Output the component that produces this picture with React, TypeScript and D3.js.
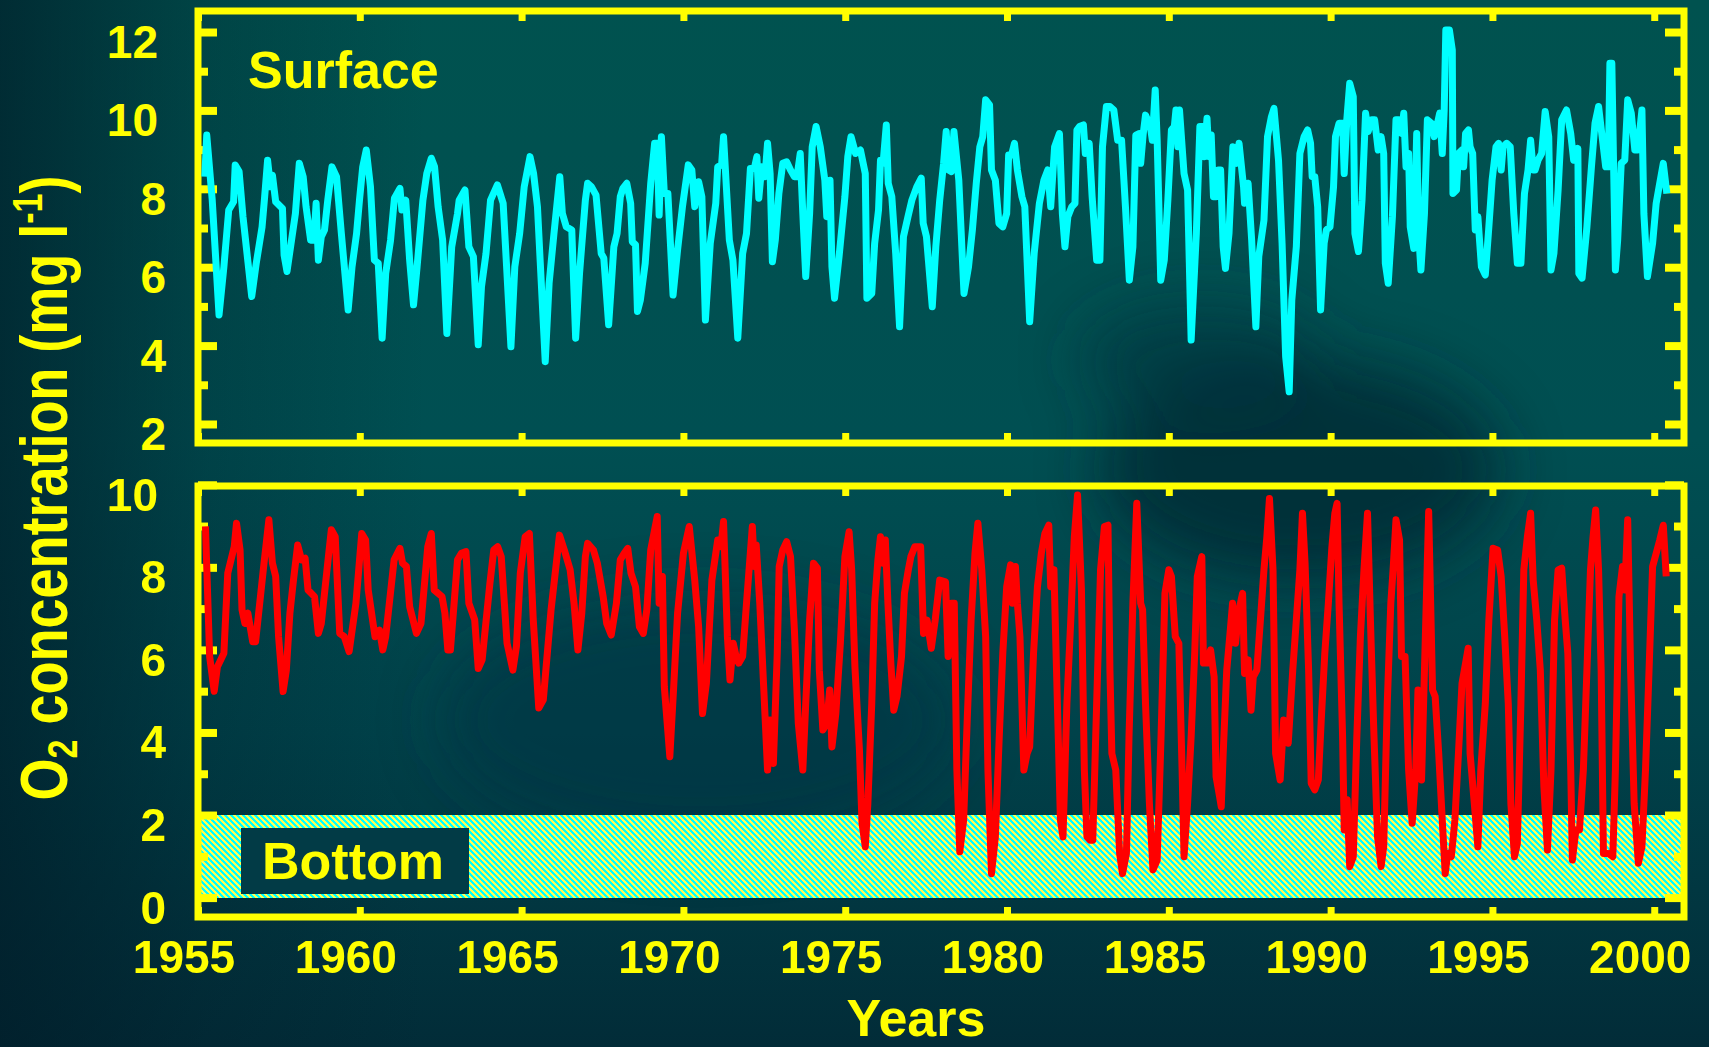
import { useEffect, useRef } from 'react';
import * as d3 from 'd3';

const W = 1709;
const H = 1047;
const YELLOW = '#ffff00';
const FONT = "'Liberation Sans', Arial, sans-serif";

const yearTicks = [1955, 1960, 1965, 1970, 1975, 1980, 1985, 1990, 1995, 2000];
const surfaceTicks = [2, 4, 6, 8, 10, 12];
const surfaceMinor = [3, 5, 7, 9, 11];
const bottomTicks = [0, 2, 4, 6, 8, 10];
const bottomMinor = [1, 3, 5, 7, 9];
const hypoxiaLimit = 2;

// [decimal year, O2 mg/l]
const surface: [number, number][] = [
  [1955.21, 8.31], [1955.27, 9.37], [1955.44, 7.71], [1955.65, 4.78], [1955.8, 6.01], [1955.95, 7.46], [1956.1, 7.67], [1956.15, 8.61],
  [1956.27, 8.44], [1956.39, 7.29], [1956.66, 5.25], [1956.8, 6.1], [1956.98, 7.03], [1957.06, 7.8], [1957.15, 8.73], [1957.24, 8.05],
  [1957.3, 8.35], [1957.4, 7.67], [1957.61, 7.5], [1957.66, 6.31], [1957.75, 5.89], [1957.89, 6.69], [1958.01, 7.37], [1958.13, 8.65],
  [1958.25, 8.31], [1958.34, 7.54], [1958.48, 6.69], [1958.58, 6.69], [1958.65, 7.63], [1958.72, 6.18], [1958.81, 6.78], [1958.91, 6.95],
  [1959.01, 7.71], [1959.14, 8.56], [1959.28, 8.31], [1959.43, 6.86], [1959.64, 4.91], [1959.76, 6.01], [1959.9, 6.86], [1959.99, 7.71],
  [1960.09, 8.56], [1960.2, 8.99], [1960.33, 8.05], [1960.45, 6.18], [1960.57, 6.1], [1960.69, 4.19], [1960.8, 5.84], [1960.95, 6.69],
  [1961.07, 7.76], [1961.24, 8.01], [1961.3, 7.46], [1961.42, 7.71], [1961.54, 6.18], [1961.66, 5.04], [1961.77, 6.01], [1961.95, 7.71],
  [1962.07, 8.39], [1962.21, 8.78], [1962.31, 8.56], [1962.42, 7.54], [1962.56, 6.69], [1962.69, 4.31], [1962.84, 6.52], [1963.02, 7.37],
  [1963.07, 7.71], [1963.25, 7.97], [1963.37, 6.52], [1963.51, 6.27], [1963.66, 4.02], [1963.76, 5.5], [1963.9, 6.35], [1964.04, 7.71],
  [1964.25, 8.1], [1964.43, 7.63], [1964.67, 3.97], [1964.79, 6.01], [1964.94, 6.86], [1965.08, 8.05], [1965.26, 8.82], [1965.37, 8.39],
  [1965.49, 7.54], [1965.73, 3.59], [1965.85, 5.59], [1966.0, 6.86], [1966.18, 8.31], [1966.26, 7.37], [1966.38, 7.03], [1966.55, 6.95],
  [1966.67, 4.19], [1966.79, 5.84], [1966.97, 7.71],
  [1967.04, 8.14], [1967.16, 8.05], [1967.3, 7.84], [1967.46, 6.35], [1967.54, 6.23], [1967.69, 4.53], [1967.85, 6.52], [1967.95, 6.86],
  [1968.05, 7.8], [1968.13, 8.01], [1968.25, 8.14], [1968.37, 7.63], [1968.42, 6.65], [1968.52, 6.57], [1968.58, 4.87], [1968.67, 5.16],
  [1968.82, 6.1], [1968.99, 8.14], [1969.11, 9.16], [1969.19, 9.16], [1969.25, 7.33], [1969.32, 9.33], [1969.41, 7.88], [1969.52, 7.88],
  [1969.68, 5.29], [1969.82, 6.44], [1969.97, 7.54], [1970.15, 8.61], [1970.26, 8.48], [1970.35, 7.54], [1970.47, 8.18], [1970.57, 7.8],
  [1970.68, 4.65], [1970.83, 6.61], [1971.0, 7.63], [1971.06, 8.56], [1971.18, 8.61], [1971.24, 9.33], [1971.42, 6.69], [1971.53, 6.18],
  [1971.68, 4.19], [1971.83, 6.35], [1971.95, 6.86], [1972.07, 8.52], [1972.19, 8.52], [1972.27, 8.82], [1972.33, 7.76], [1972.42, 8.56],
  [1972.52, 8.31], [1972.6, 9.16], [1972.68, 8.39], [1972.75, 6.14], [1972.84, 6.69], [1972.95, 7.88], [1973.07, 8.65], [1973.19, 8.69],
  [1973.31, 8.48], [1973.43, 8.31], [1973.51, 8.31], [1973.61, 8.9], [1973.69, 7.37], [1973.78, 5.76], [1973.9, 7.37], [1973.98, 9.07],
  [1974.1, 9.59], [1974.23, 9.07], [1974.37, 8.22], [1974.43, 7.29], [1974.53, 8.22], [1974.59, 6.01], [1974.67, 5.21], [1974.81, 6.27],
  [1974.99, 7.8], [1975.08, 8.82], [1975.18, 9.33], [1975.32, 8.9], [1975.47, 8.99], [1975.62, 8.39], [1975.67, 5.21], [1975.82, 5.33],
  [1975.91, 6.61], [1976.03, 7.46], [1976.09, 8.73], [1976.17, 8.65], [1976.27, 9.63], [1976.33, 8.14], [1976.44, 7.8], [1976.56, 6.35],
  [1976.68, 4.48], [1976.8, 6.78], [1976.94, 7.29], [1977.06, 7.71], [1977.21, 8.05], [1977.35, 8.27], [1977.41, 7.12], [1977.51, 6.78],
  [1977.69, 4.99], [1977.8, 6.52], [1977.92, 7.71], [1978.04, 8.65], [1978.12, 9.46], [1978.19, 8.48], [1978.28, 8.44], [1978.36, 9.46],
  [1978.51, 8.22], [1978.67, 5.33], [1978.81, 6.01], [1978.93, 6.95], [1979.05, 8.14], [1979.16, 9.07], [1979.25, 9.33], [1979.34, 10.27],
  [1979.46, 10.14], [1979.52, 8.48], [1979.64, 8.22], [1979.75, 7.12], [1979.87, 7.03], [1979.99, 7.37], [1980.05, 8.86], [1980.14, 8.86],
  [1980.23, 9.16], [1980.32, 8.48], [1980.46, 7.8], [1980.55, 7.54], [1980.7, 4.61], [1980.84, 6.35], [1981.0, 7.63], [1981.14, 8.22],
  [1981.26, 8.48], [1981.35, 7.54], [1981.47, 9.07], [1981.62, 9.41], [1981.71, 7.37], [1981.79, 6.52], [1981.88, 7.29], [1982.0, 7.54],
  [1982.1, 7.63], [1982.16, 9.5], [1982.24, 9.59], [1982.36, 9.63], [1982.42, 8.9], [1982.54, 9.16], [1982.63, 7.8], [1982.77, 6.18],
  [1982.87, 6.18], [1982.95, 9.07], [1983.07, 10.1], [1983.18, 10.1], [1983.3, 10.01], [1983.42, 9.24], [1983.54, 9.24], [1983.66, 7.54],
  [1983.78, 5.67], [1983.89, 6.52], [1983.98, 9.37], [1984.09, 9.41], [1984.13, 8.65], [1984.21, 9.41], [1984.28, 9.88], [1984.43, 9.59],
  [1984.49, 9.24],
  [1984.58, 10.52], [1984.64, 9.24], [1984.75, 5.67], [1984.86, 6.18], [1984.97, 7.71], [1985.08, 9.5], [1985.17, 9.59], [1985.22, 10.01],
  [1985.28, 9.07], [1985.33, 10.01], [1985.47, 8.39], [1985.58, 7.97], [1985.69, 4.14], [1985.85, 6.86], [1985.96, 9.59], [1986.05, 9.59],
  [1986.09, 8.82], [1986.18, 9.8], [1986.24, 8.82], [1986.31, 9.37], [1986.38, 7.8], [1986.46, 7.8], [1986.53, 8.48], [1986.6, 8.48],
  [1986.68, 6.52], [1986.75, 5.97], [1986.86, 6.86], [1986.98, 9.07], [1987.09, 8.65], [1987.17, 9.16], [1987.31, 8.05], [1987.34, 7.63],
  [1987.45, 8.14], [1987.56, 6.69], [1987.69, 4.48], [1987.78, 6.27], [1987.94, 7.2], [1988.05, 9.33], [1988.17, 9.84], [1988.25, 10.05],
  [1988.39, 8.73], [1988.5, 6.61], [1988.61, 3.72], [1988.72, 2.82], [1988.8, 5.16], [1988.94, 6.52], [1989.05, 8.9], [1989.18, 9.33],
  [1989.29, 9.5], [1989.38, 9.16], [1989.43, 8.31], [1989.51, 8.31], [1989.6, 7.54], [1989.69, 4.91], [1989.8, 6.61], [1989.87, 6.95],
  [1989.98, 7.03], [1990.09, 8.05], [1990.15, 9.33], [1990.26, 9.67], [1990.37, 9.67], [1990.42, 8.39], [1990.5, 9.76], [1990.59, 10.69],
  [1990.7, 10.35], [1990.75, 6.86], [1990.86, 6.4], [1990.97, 7.71], [1991.08, 9.93], [1991.16, 9.46], [1991.27, 9.76], [1991.36, 9.76],
  [1991.47, 8.99], [1991.56, 9.33], [1991.64, 8.9], [1991.69, 6.1], [1991.78, 5.59], [1991.91, 7.29], [1992.02, 9.76], [1992.1, 9.76],
  [1992.19, 9.41], [1992.26, 9.93], [1992.33, 8.56], [1992.41, 8.9], [1992.46, 7.03], [1992.57, 6.48], [1992.66, 9.41], [1992.72, 6.86],
  [1992.79, 5.93], [1992.9, 7.37], [1992.99, 9.76], [1993.12, 9.67], [1993.2, 9.33], [1993.29, 9.63], [1993.37, 9.93], [1993.45, 8.9],
  [1993.51, 10.01], [1993.56, 12.05], [1993.67, 12.05], [1993.76, 11.54], [1993.78, 7.88], [1993.89, 7.97], [1993.95, 8.9], [1994.06, 8.99],
  [1994.11, 8.56], [1994.17, 9.41], [1994.26, 9.5], [1994.31, 9.07], [1994.39, 8.9], [1994.47, 6.95], [1994.55, 7.29], [1994.66, 6.01],
  [1994.78, 5.8], [1994.89, 7.03], [1994.99, 8.22], [1995.11, 9.07], [1995.19, 9.16], [1995.27, 8.48], [1995.33, 9.07], [1995.44, 9.16],
  [1995.55, 9.07], [1995.66, 7.37], [1995.77, 6.1], [1995.88, 6.1], [1995.99, 7.88], [1996.1, 8.48], [1996.18, 9.24], [1996.26, 8.48],
  [1996.32, 8.48], [1996.41, 8.73], [1996.52, 8.9], [1996.63, 9.97], [1996.74, 9.33], [1996.81, 5.93], [1996.9, 6.35], [1997.03, 7.97],
  [1997.14, 9.76], [1997.29, 10.01], [1997.42, 9.41], [1997.51, 8.73], [1997.64, 9.03], [1997.67, 5.84], [1997.77, 5.72], [1997.92, 7.03],
  [1998.06, 8.56], [1998.17, 9.67], [1998.28, 10.1], [1998.39, 9.33], [1998.5, 8.56], [1998.58, 8.56], [1998.63, 11.2], [1998.69, 11.2],
  [1998.8, 5.93], [1998.87, 6.69], [1998.98, 8.65], [1999.09, 8.73], [1999.18, 10.27], [1999.29, 9.93], [1999.4, 8.99], [1999.49, 8.99],
  [1999.62, 10.01], [1999.68, 7.37], [1999.79, 5.76], [1999.95, 6.61], [2000.06, 7.63], [2000.15, 8.05], [2000.28, 8.65], [2000.39, 7.88],
];

// [decimal year, O2 mg/l]
const bottom: [number, number][] = [
  [1955.23, 8.99], [1955.36, 5.84], [1955.5, 5.0], [1955.6, 5.59], [1955.8, 5.92], [1955.92, 7.86], [1956.12, 8.5], [1956.19, 9.07],
  [1956.3, 8.42], [1956.36, 6.97], [1956.45, 6.64], [1956.54, 6.89], [1956.69, 6.2], [1956.78, 6.2], [1957.04, 8.1], [1957.19, 9.15],
  [1957.3, 8.1], [1957.4, 7.78], [1957.49, 6.32], [1957.63, 4.99], [1957.73, 5.51], [1957.84, 6.89], [1957.95, 7.69], [1958.08, 8.54],
  [1958.2, 8.18], [1958.31, 8.22], [1958.4, 7.45], [1958.6, 7.29], [1958.72, 6.4], [1958.81, 6.64], [1959.03, 8.26], [1959.12, 8.91],
  [1959.24, 8.74], [1959.38, 6.4], [1959.52, 6.32], [1959.67, 5.96], [1959.88, 7.13], [1960.06, 8.82], [1960.18, 8.66], [1960.26, 7.45],
  [1960.47, 6.32], [1960.61, 6.48], [1960.71, 6.0], [1960.8, 6.32], [1961.06, 8.18], [1961.24, 8.46], [1961.32, 8.1], [1961.44, 8.02],
  [1961.54, 7.05], [1961.75, 6.4], [1961.89, 6.64], [1962.1, 8.5], [1962.21, 8.82], [1962.3, 7.45], [1962.54, 7.29], [1962.63, 6.89],
  [1962.72, 6.0], [1962.8, 6.0], [1963.02, 8.18], [1963.14, 8.34], [1963.28, 8.38], [1963.37, 7.13], [1963.55, 6.73], [1963.66, 5.55],
  [1963.78, 5.76], [1964.02, 7.61], [1964.14, 8.42], [1964.26, 8.5], [1964.37, 8.26], [1964.55, 6.16], [1964.73, 5.51], [1964.84, 6.08],
  [1964.96, 7.86], [1965.11, 8.74], [1965.24, 8.82], [1965.36, 6.73], [1965.53, 4.59], [1965.67, 4.79], [1965.91, 6.97], [1966.17, 8.78],
  [1966.32, 8.42], [1966.5, 7.94], [1966.62, 7.13], [1966.74, 6.0], [1966.86, 6.89], [1966.97, 8.26],
  [1967.04, 8.58], [1967.22, 8.42], [1967.34, 8.1], [1967.52, 7.29], [1967.63, 6.64], [1967.77, 6.36], [1967.93, 7.13], [1968.05, 8.18],
  [1968.17, 8.34], [1968.28, 8.46], [1968.38, 7.86], [1968.52, 7.53], [1968.64, 6.56], [1968.76, 6.4], [1968.87, 6.97], [1968.99, 8.42],
  [1969.11, 8.91], [1969.19, 9.23], [1969.25, 7.13], [1969.35, 7.78], [1969.41, 5.11], [1969.58, 3.41], [1969.7, 5.11], [1969.82, 6.89],
  [1970.0, 8.34], [1970.18, 8.99], [1970.35, 7.69], [1970.47, 6.56], [1970.59, 4.46], [1970.71, 5.19], [1970.88, 7.69], [1971.06, 8.66],
  [1971.16, 8.5], [1971.24, 9.11], [1971.36, 6.32], [1971.44, 5.27], [1971.54, 6.16], [1971.63, 5.84], [1971.71, 5.68], [1971.83, 5.84],
  [1971.95, 7.13], [1972.13, 8.99], [1972.19, 8.02], [1972.25, 8.54], [1972.36, 7.13], [1972.48, 5.11], [1972.6, 3.09], [1972.68, 4.3],
  [1972.78, 3.25], [1972.9, 5.92], [1972.96, 8.02], [1973.07, 8.42], [1973.19, 8.62], [1973.31, 8.26], [1973.43, 6.48], [1973.55, 4.22],
  [1973.69, 3.09], [1973.78, 4.7], [1973.9, 6.72], [1974.02, 8.1], [1974.14, 7.98], [1974.2, 5.51], [1974.31, 4.06], [1974.43, 4.22],
  [1974.52, 5.03], [1974.59, 3.65], [1974.71, 4.46], [1974.85, 6.16], [1974.99, 8.26], [1975.12, 8.86], [1975.2, 7.94], [1975.3, 5.59],
  [1975.44, 3.57], [1975.52, 1.8], [1975.62, 1.23], [1975.7, 2.28], [1975.82, 4.7], [1975.91, 7.13], [1976.01, 8.18], [1976.09, 8.74],
  [1976.17, 8.1], [1976.24, 8.66], [1976.32, 7.13], [1976.41, 5.68], [1976.5, 4.54], [1976.6, 4.87], [1976.74, 5.84], [1976.83, 7.37],
  [1976.95, 7.94], [1977.03, 8.26], [1977.15, 8.5], [1977.33, 8.5], [1977.42, 6.4], [1977.53, 6.72], [1977.66, 6.04], [1977.78, 6.72],
  [1977.92, 7.69], [1978.1, 7.65], [1978.18, 5.84], [1978.28, 7.13], [1978.37, 7.13], [1978.45, 3.09], [1978.54, 1.11], [1978.66, 1.88],
  [1978.77, 4.3], [1978.89, 6.72], [1979.01, 8.34], [1979.1, 9.07], [1979.22, 7.94], [1979.34, 6.32], [1979.41, 3.09], [1979.52, 0.58],
  [1979.64, 1.47], [1979.76, 3.9], [1979.87, 5.92], [1979.99, 7.53], [1980.11, 8.06], [1980.17, 7.13], [1980.26, 8.02], [1980.32, 7.13],
  [1980.4, 6.32], [1980.52, 3.09], [1980.62, 3.49], [1980.7, 3.65], [1980.82, 5.92], [1980.94, 7.53], [1981.06, 8.34], [1981.17, 8.82],
  [1981.29, 9.02], [1981.35, 7.53], [1981.45, 7.94], [1981.53, 5.51], [1981.65, 1.88], [1981.73, 1.47], [1981.85, 4.7], [1981.97, 6.72],
  [1982.08, 8.74], [1982.18, 9.75], [1982.3, 7.45], [1982.39, 3.09], [1982.47, 1.47], [1982.57, 1.39], [1982.65, 1.39], [1982.77, 4.7],
  [1982.89, 7.94], [1983.01, 8.99], [1983.12, 9.02], [1983.18, 5.51], [1983.24, 3.49], [1983.36, 3.09], [1983.48, 1.07], [1983.57, 0.58],
  [1983.69, 1.07], [1983.77, 3.9], [1983.89, 7.13], [1984.01, 9.55], [1984.13, 7.13], [1984.19, 6.97], [1984.28, 4.7], [1984.4, 2.28],
  [1984.51, 0.67], [1984.64, 0.91], [1984.76, 3.9], [1984.88, 7.37], [1985.0, 7.94], [1985.08, 7.78], [1985.2, 6.32], [1985.31, 6.16],
  [1985.41, 3.09], [1985.47, 0.99], [1985.58, 2.28], [1985.69, 3.9], [1985.8, 5.92], [1985.88, 7.78], [1986.02, 8.26], [1986.07, 5.68],
  [1986.18, 5.68], [1986.29, 6.0], [1986.4, 5.35], [1986.46, 2.93], [1986.57, 2.44], [1986.62, 2.2], [1986.68, 3.49], [1986.79, 5.51],
  [1986.9, 6.48], [1986.97, 7.13], [1987.06, 6.16], [1987.17, 6.97], [1987.28, 7.37], [1987.34, 5.43], [1987.45, 5.76], [1987.54, 4.54],
  [1987.61, 5.35], [1987.72, 5.51], [1987.83, 6.72], [1987.94, 7.94], [1988.03, 8.74], [1988.11, 9.67], [1988.22, 7.94], [1988.3, 3.49],
  [1988.44, 2.85], [1988.55, 4.3], [1988.69, 3.74], [1988.83, 5.51], [1988.94, 6.72], [1989.05, 7.94], [1989.13, 9.31], [1989.21, 8.1],
  [1989.32, 5.51], [1989.4, 2.77], [1989.51, 2.61], [1989.62, 2.85], [1989.71, 4.3], [1989.82, 5.92], [1989.93, 7.13], [1990.04, 8.5],
  [1990.13, 9.31], [1990.2, 9.55], [1990.26, 7.13], [1990.37, 3.9], [1990.42, 1.64], [1990.51, 2.37], [1990.59, 0.75], [1990.7, 0.99],
  [1990.81, 3.9], [1990.92, 6.32], [1991.03, 7.94], [1991.14, 9.31], [1991.23, 6.72], [1991.34, 3.9], [1991.45, 1.47], [1991.56, 0.75],
  [1991.64, 1.23], [1991.75, 4.7], [1991.86, 7.13], [1991.93, 7.94], [1992.02, 9.15], [1992.13, 8.66], [1992.19, 5.84], [1992.3, 5.84],
  [1992.41, 3.09], [1992.52, 1.8], [1992.63, 3.09], [1992.7, 5.03], [1992.81, 2.85], [1992.9, 5.51], [1993.03, 9.35], [1993.15, 5.03],
  [1993.23, 4.87], [1993.34, 3.49], [1993.45, 1.88], [1993.54, 0.58], [1993.62, 1.07], [1993.73, 0.99], [1993.84, 1.88], [1993.95, 3.49],
  [1994.06, 5.19], [1994.17, 5.68], [1994.25, 6.04], [1994.31, 3.49], [1994.44, 2.28], [1994.55, 1.23], [1994.64, 3.09], [1994.78, 4.7],
  [1994.89, 6.72], [1995.02, 8.46], [1995.16, 8.42], [1995.27, 7.78], [1995.38, 6.32], [1995.49, 4.7], [1995.57, 2.28], [1995.68, 0.99],
  [1995.77, 1.31], [1995.88, 4.7], [1995.97, 7.94], [1996.08, 8.74], [1996.18, 9.31], [1996.26, 7.69], [1996.37, 6.72], [1996.48, 5.51],
  [1996.59, 2.69], [1996.7, 1.15], [1996.81, 3.09], [1996.92, 6.72], [1997.03, 7.94], [1997.14, 7.98], [1997.25, 6.72], [1997.33, 5.92],
  [1997.42, 3.09], [1997.47, 0.91], [1997.58, 1.64], [1997.69, 1.64], [1997.81, 3.09], [1997.92, 5.51], [1998.03, 7.94], [1998.11, 8.74],
  [1998.19, 9.39], [1998.28, 7.94], [1998.36, 5.51], [1998.43, 1.07], [1998.58, 1.07], [1998.72, 0.99], [1998.8, 3.09], [1998.91, 7.29],
  [1999.02, 8.02], [1999.09, 7.45], [1999.18, 9.15], [1999.27, 5.51], [1999.38, 2.28], [1999.51, 0.83], [1999.62, 1.23], [1999.73, 3.09],
  [1999.84, 5.51], [1999.95, 8.02], [2000.06, 8.34], [2000.17, 8.66], [2000.28, 9.02], [2000.37, 7.78],
];

export default function App() {
  const svgRef = useRef<SVGSVGElement>(null);

  useEffect(() => {
    if (!svgRef.current) return;
    const svg = d3.select(svgRef.current);
    svg.selectAll('*').remove();

    const left = 198;
    const right = 1684;
    const top1 = 11, bot1 = 443;
    const top2 = 486, bot2 = 917;

    const x = d3.scaleLinear().domain([1955, 2000.92]).range([left, right]);
    const ySurf = d3.scaleLinear().domain([1.515, 12.536]).range([bot1, top1]);
    const yBot = d3.scaleLinear().domain([-0.47, 9.97]).range([bot2, top2]);

    const defs = svg.append('defs');

    // background
    const bg = defs.append('linearGradient').attr('id', 'bg').attr('x1', 0).attr('x2', 0).attr('y1', 0).attr('y2', 1);
    bg.append('stop').attr('offset', '0%').attr('stop-color', '#00524f');
    bg.append('stop').attr('offset', '42%').attr('stop-color', '#004f52');
    bg.append('stop').attr('offset', '70%').attr('stop-color', '#00424a');
    bg.append('stop').attr('offset', '100%').attr('stop-color', '#022c38');
    const side = defs.append('linearGradient').attr('id', 'side').attr('x1', 0).attr('x2', 1).attr('y1', 0).attr('y2', 0);
    side.append('stop').attr('offset', '0%').attr('stop-color', '#011c28').attr('stop-opacity', 0.7);
    side.append('stop').attr('offset', '12%').attr('stop-color', '#011c28').attr('stop-opacity', 0.25);
    side.append('stop').attr('offset', '25%').attr('stop-color', '#011c28').attr('stop-opacity', 0);
    defs.append('filter').attr('id', 'blur').attr('x', '-50%').attr('y', '-50%').attr('width', '200%').attr('height', '200%')
      .append('feGaussianBlur').attr('stdDeviation', 30);

    svg.append('rect').attr('width', W).attr('height', H).attr('fill', 'url(#bg)');
    svg.append('rect').attr('width', W).attr('height', H).attr('fill', 'url(#side)');
    const shade = svg.append('g').attr('filter', 'url(#blur)');
    shade.append('ellipse').attr('cx', 1300).attr('cy', 470).attr('rx', 200).attr('ry', 110).attr('fill', '#002733').attr('opacity', 0.75);
    shade.append('ellipse').attr('cx', 1200).attr('cy', 360).attr('rx', 120).attr('ry', 55).attr('fill', '#00303a').attr('opacity', 0.6);
    shade.append('ellipse').attr('cx', 700).attr('cy', 720).attr('rx', 260).attr('ry', 120).attr('fill', '#00343f').attr('opacity', 0.5);

    // hatched hypoxia band: pixel staircase of cyan / yellow diagonal stripes
    const P = 6;
    const pat = defs.append('pattern').attr('id', 'hatch').attr('patternUnits', 'userSpaceOnUse')
      .attr('width', P).attr('height', P);
    pat.append('rect').attr('width', P).attr('height', P).attr('fill', '#00ffff');
    d3.range(P).forEach(r => {
      const start = r % P;
      const w1 = Math.min(3, P - start);
      pat.append('rect').attr('x', start).attr('y', r).attr('width', w1).attr('height', 1).attr('fill', '#ffff50');
      if (w1 < 3) pat.append('rect').attr('x', 0).attr('y', r).attr('width', 3 - w1).attr('height', 1).attr('fill', '#ffff50');
    });
    svg.append('rect')
      .attr('x', left).attr('y', Math.round(yBot(hypoxiaLimit)))
      .attr('width', right - left).attr('height', Math.round(yBot(0) - yBot(hypoxiaLimit)))
      .attr('fill', 'url(#hatch)').attr('shape-rendering', 'crispEdges');

    // label box for Bottom
    svg.append('rect').attr('x', 241).attr('y', 828).attr('width', 228).attr('height', 66).attr('fill', '#023b46');

    const txt = (tx: number, ty: number, s: string, size: number, anchor = 'start') =>
      svg.append('text').attr('x', tx).attr('y', ty).attr('fill', YELLOW)
        .attr('font-family', FONT).attr('font-weight', 'bold').attr('font-size', size)
        .attr('text-anchor', anchor).text(s);

    txt(248, 88, 'Surface', 52);
    txt(262, 879, 'Bottom', 52);

    // frames
    [[top1, bot1], [top2, bot2]].forEach(([t, b]) => {
      svg.append('rect').attr('x', left).attr('y', t).attr('width', right - left).attr('height', b - t)
        .attr('fill', 'none').attr('stroke', YELLOW).attr('stroke-width', 7);
    });

    const styleTicks = (g: d3.Selection<SVGGElement, unknown, null, undefined>, w: number) => {
      g.select('.domain').remove();
      g.selectAll('text').remove();
      g.selectAll('line').attr('stroke', YELLOW).attr('stroke-width', w);
    };

    const panels: [d3.ScaleLinear<number, number>, number[], number[], number, number][] = [
      [ySurf, surfaceTicks, surfaceMinor, top1, bot1],
      [yBot, bottomTicks, bottomMinor, top2, bot2],
    ];
    panels.forEach(([y, major, minor, t, b]) => {
      const specs: [number[], number][] = [[major, 19], [minor, 10]];
      specs.forEach(([vals, len]) => {
        svg.append('g').attr('transform', `translate(${left},0)`)
          .call(d3.axisRight(y).tickValues(vals).tickSize(len).tickFormat(() => ''))
          .call(g => styleTicks(g, 8));
        svg.append('g').attr('transform', `translate(${right},0)`)
          .call(d3.axisLeft(y).tickValues(vals).tickSize(len).tickFormat(() => ''))
          .call(g => styleTicks(g, 8));
      });
      svg.append('g').attr('transform', `translate(0,${t})`)
        .call(d3.axisBottom(x).tickValues(yearTicks).tickSize(10).tickFormat(() => ''))
        .call(g => styleTicks(g, 7));
      svg.append('g').attr('transform', `translate(0,${b})`)
        .call(d3.axisTop(x).tickValues(yearTicks).tickSize(10).tickFormat(() => ''))
        .call(g => styleTicks(g, 7));
      major.forEach(v => {
        const s = String(v);
        txt(166 - (s.length - 1) * 8, y(v) + 26, s, 46, 'end');
      });
    });

    // series
    const line = d3.line<[number, number]>().x(d => x(d[0]));
    svg.append('path').datum(surface)
      .attr('d', line.y(d => ySurf(d[1])))
      .attr('fill', 'none').attr('stroke', '#00ffff').attr('stroke-width', 7).attr('stroke-linejoin', 'round');
    svg.append('path').datum(bottom)
      .attr('d', line.y(d => yBot(d[1])))
      .attr('fill', 'none').attr('stroke', '#ff0000').attr('stroke-width', 7).attr('stroke-linejoin', 'round');

    // x tick labels
    yearTicks.forEach(yr => txt(x(yr) - 14, 973, String(yr), 46, 'middle'));

    // axis titles
    txt(916, 1036, 'Years', 52, 'middle');

    const title = svg.append('text')
      .attr('transform', 'translate(67,488) rotate(-90) scale(1,1.25)')
      .attr('fill', YELLOW).attr('font-family', FONT).attr('font-weight', 'bold')
      .attr('font-size', 54).attr('text-anchor', 'middle');
    title.append('tspan').text('O');
    title.append('tspan').attr('font-size', 34).attr('dy', 8).text('2');
    title.append('tspan').attr('dy', -8).text(' concentration (mg l');
    title.append('tspan').attr('font-size', 34).attr('dy', -20).text('-1');
    title.append('tspan').attr('dy', 20).text(')');
  }, []);

  return (
    <svg
      ref={svgRef}
      width={W}
      height={H}
      style={{ position: 'absolute', left: 0, top: 0, display: 'block' }}
    />
  );
}
